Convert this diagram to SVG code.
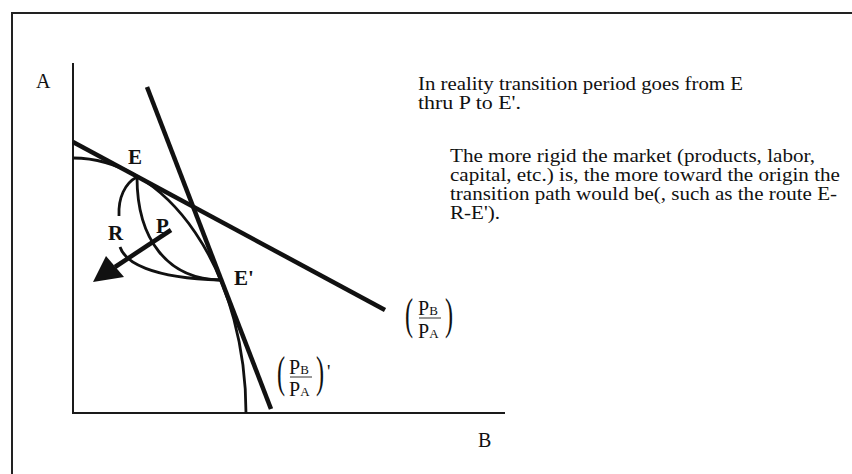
<svg xmlns="http://www.w3.org/2000/svg" width="852" height="474" viewBox="0 0 852 474">
<style>
.ax{stroke:#1a1a1a;stroke-width:2;fill:none}
.thick{stroke:#111;stroke-width:4.5;fill:none;stroke-linecap:butt}
.crv{stroke:#111;stroke-width:2.8;fill:none}
.txt{font-family:"Liberation Serif","Times New Roman",serif;fill:#111;font-size:18px}
.lbl{font-family:"Liberation Serif","Times New Roman",serif;fill:#111;font-size:21px;font-weight:bold}
.ax-lbl{font-family:"Liberation Serif","Times New Roman",serif;fill:#111;font-size:20px}
.frac{font-family:"Liberation Serif","Times New Roman",serif;fill:#111}
</style>
<rect width="852" height="474" fill="#fff"/>
<path d="M12,474 V13 H852" stroke="#222" stroke-width="2" fill="none"/>

<g id="axes">
<path class="ax" d="M73,63 V413 H505"/>
<text class="ax-lbl" x="36" y="88">A</text>
<text class="ax-lbl" x="478" y="447">B</text>
</g>

<g id="ppf">
<path class="crv" d="M73,158 A173,255 0 0 1 246,413"/>
</g>

<g id="connectors">
<line id="priceline1" class="thick" x1="73" y1="142" x2="385" y2="310"/>
<line id="priceline2" class="thick" x1="147" y1="87" x2="271" y2="409"/>
<path id="pathP" class="crv" d="M137,177 C137,240 168,279 220,280"/>
<path id="pathR1" class="crv" d="M137,177 C125,183 118,198 119,216"/>
<path id="pathR2" class="crv" d="M120,247 C125,262 150,278 220,280"/>
<g id="arrow">
<line class="thick" x1="171" y1="230" x2="115" y2="267"/>
<polygon points="93,282 106,256 124,277" fill="#111"/>
</g>
</g>

<g id="node-E"><text class="lbl" x="128" y="164">E</text></g>
<g id="node-R"><text class="lbl" x="108" y="240">R</text></g>
<g id="node-P"><text class="lbl" x="156" y="233">P</text></g>
<g id="node-Ep"><text class="lbl" x="234" y="285">E'</text></g>

<g id="ratio1" class="frac">
<text transform="translate(405,329) scale(0.55,1)" font-size="44">(</text>
<text x="418" y="315" font-size="20">P<tspan font-size="13">B</tspan></text>
<line x1="419" y1="318" x2="441" y2="318" stroke="#333" stroke-width="1"/>
<text x="418" y="338" font-size="20">P<tspan font-size="13">A</tspan></text>
<text transform="translate(445,329) scale(0.55,1)" font-size="44">)</text>
</g>

<g id="ratio2" class="frac">
<text transform="translate(277,387) scale(0.55,1)" font-size="44">(</text>
<text x="289" y="374" font-size="20">P<tspan font-size="13">B</tspan></text>
<line x1="290" y1="377" x2="312" y2="377" stroke="#333" stroke-width="1"/>
<text x="289" y="396" font-size="20">P<tspan font-size="13">A</tspan></text>
<text transform="translate(316,387) scale(0.55,1)" font-size="44">)</text>
<text x="327" y="378" font-size="19">'</text>
</g>

<g id="note1" class="txt">
<text x="418" y="90" textLength="325" lengthAdjust="spacingAndGlyphs">In reality transition period goes from E</text>
<text x="418" y="109" textLength="103" lengthAdjust="spacingAndGlyphs">thru P to E'.</text>
</g>
<g id="note2" class="txt">
<text x="450" y="162" textLength="365" lengthAdjust="spacingAndGlyphs">The more rigid the market (products, labor,</text>
<text x="450" y="181" textLength="390" lengthAdjust="spacingAndGlyphs">capital, etc.) is, the more toward the origin the</text>
<text x="450" y="200" textLength="387" lengthAdjust="spacingAndGlyphs">transition path would be(, such as the route E-</text>
<text x="450" y="219" textLength="50" lengthAdjust="spacingAndGlyphs">R-E').</text>
</g>
</svg>
